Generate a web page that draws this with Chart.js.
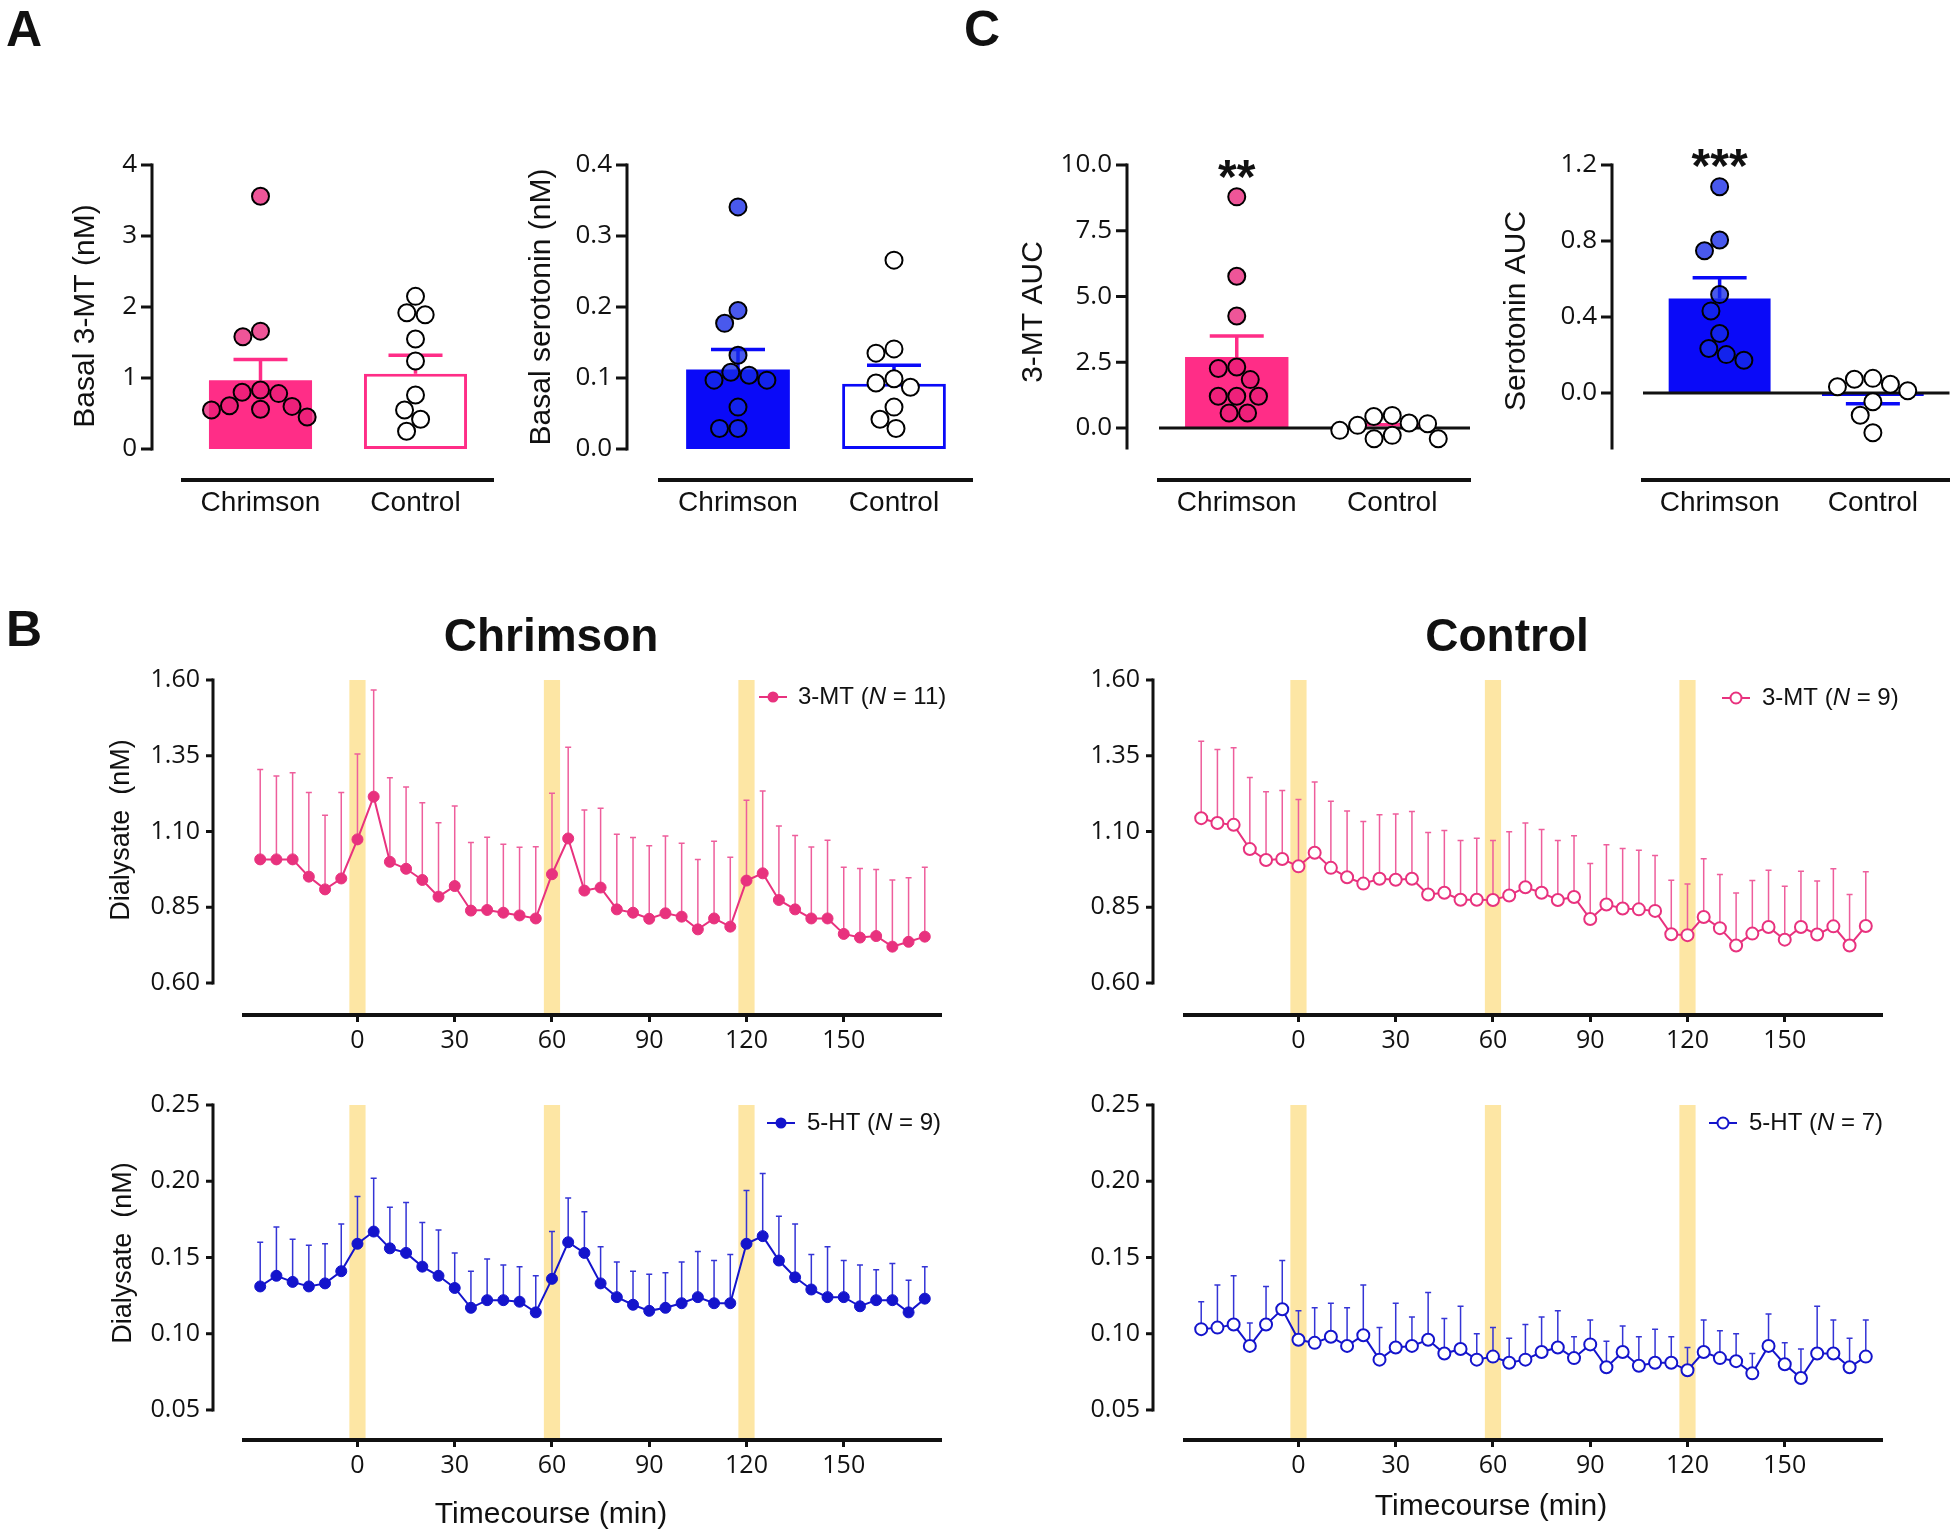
<!DOCTYPE html>
<html><head><meta charset="utf-8">
<script src="https://cdn.jsdelivr.net/npm/chart.js@4.4.1/dist/chart.umd.min.js"></script>
<style>
html,body{margin:0;padding:0;background:#fff;}
#wrap{position:relative;width:1960px;height:1537px;overflow:hidden;background:#fff;}
#wrap canvas{position:absolute;left:0;top:0;}
.lbl{position:absolute;font-family:"Liberation Sans",Arial,sans-serif;font-weight:bold;line-height:1;white-space:nowrap;color:#111;}
</style></head><body>
<div id="wrap">
<canvas id="cA1" width="1960" height="1537"></canvas>
<canvas id="cA2" width="1960" height="1537"></canvas>
<canvas id="cC1" width="1960" height="1537"></canvas>
<canvas id="cC2" width="1960" height="1537"></canvas>
<canvas id="cB1" width="1960" height="1537"></canvas>
<canvas id="cB2" width="1960" height="1537"></canvas>
<canvas id="cB3" width="1960" height="1537"></canvas>
<canvas id="cB4" width="1960" height="1537"></canvas>
<div class="lbl" style="left:6px;top:4px;font-size:50px">A</div>
<div class="lbl" style="left:6px;top:604px;font-size:50px">B</div>
<div class="lbl" style="left:964px;top:4px;font-size:50px">C</div>
<div class="lbl" style="left:551px;top:612px;font-size:46px;transform:translateX(-50%)">Chrimson</div>
<div class="lbl" style="left:1507px;top:612px;font-size:46px;transform:translateX(-50%)">Control</div>
</div>
<script>
// ---------------- DATA ----------------
const groups = ['Chrimson', 'Control'];

// A: basal 3-MT (nM)
const basal3MT_chr = [3.56, 1.66, 1.58, 0.83, 0.80, 0.78, 0.61, 0.60, 0.56, 0.55, 0.45];
const basal3MT_ctl = [2.15, 1.92, 1.89, 1.55, 1.24, 0.76, 0.55, 0.42, 0.25];
const basal3MT_mean = [0.97, 1.06];
const basal3MT_sem = [0.29, 0.26];
const basal3MT_ticks = [0, 1, 2, 3, 4];

// A: basal serotonin (nM)
const basal5HT_chr = [0.341, 0.195, 0.177, 0.132, 0.108, 0.104, 0.097, 0.097, 0.059, 0.029, 0.029];
const basal5HT_ctl = [0.266, 0.141, 0.135, 0.099, 0.093, 0.087, 0.059, 0.042, 0.029];
const basal5HT_mean = [0.112, 0.092];
const basal5HT_sem = [0.028, 0.026];
const basal5HT_ticks = [0, 0.1, 0.2, 0.3, 0.4];

// C: 3-MT AUC
const auc3MT_chr = [8.79, 5.77, 4.26, 2.32, 2.26, 1.84, 1.21, 1.21, 1.21, 0.57, 0.57];
const auc3MT_ctl = [0.48, 0.44, 0.19, 0.165, 0.10, -0.09, -0.28, -0.41, -0.41];
const auc3MT_mean = [2.70, 0.02];
const auc3MT_sem = [0.80, 0.10];
const auc3MT_ticks = [0, 2.5, 5, 7.5, 10];

// C: serotonin AUC
const auc5HT_chr = [1.086, 0.805, 0.749, 0.518, 0.432, 0.313, 0.234, 0.202, 0.172];
const auc5HT_ctl = [0.077, 0.072, 0.046, 0.033, 0.012, -0.046, -0.117, -0.209];
const auc5HT_mean = [0.497, -0.016];
const auc5HT_sem = [0.109, 0.040];
const auc5HT_ticks = [0, 0.4, 0.8, 1.2];

// B: time course
const timeMin = [-30,-25,-20,-15,-10,-5,0,5,10,15,20,25,30,35,40,45,50,55,60,65,70,75,80,85,90,95,100,105,110,115,120,125,130,135,140,145,150,155,160,165,170,175];
const timeTicks = [0, 30, 60, 90, 120, 150];
const stimOnsets = [0, 60, 120];
const stimHalfWidth = 2.5;
const mtTicks = [0.60, 0.85, 1.10, 1.35, 1.60];
const htTicks = [0.05, 0.10, 0.15, 0.20, 0.25];

const chr3MT_mean = [1.008,1.008,1.008,0.951,0.909,0.945,1.074,1.215,1.000,0.977,0.940,0.885,0.920,0.839,0.841,0.832,0.823,0.813,0.959,1.077,0.905,0.915,0.843,0.832,0.812,0.830,0.819,0.777,0.813,0.786,0.938,0.962,0.874,0.843,0.813,0.813,0.762,0.750,0.755,0.720,0.736,0.753];
const chr3MT_upperSEM = [1.305,1.283,1.294,1.229,1.154,1.229,1.356,1.567,1.277,1.247,1.195,1.129,1.184,1.064,1.081,1.058,1.048,1.050,1.226,1.378,1.171,1.177,1.091,1.080,1.053,1.085,1.061,1.008,1.068,1.015,1.203,1.234,1.118,1.087,1.049,1.071,0.982,0.978,0.975,0.940,0.947,0.982];

const ctl3MT_mean = [1.144,1.128,1.122,1.042,1.006,1.009,0.985,1.030,0.980,0.949,0.928,0.944,0.941,0.944,0.892,0.898,0.875,0.875,0.874,0.889,0.916,0.898,0.874,0.884,0.811,0.859,0.846,0.843,0.838,0.761,0.758,0.818,0.781,0.724,0.763,0.785,0.743,0.785,0.760,0.787,0.724,0.788];
const ctl3MT_upperSEM = [1.398,1.371,1.376,1.278,1.231,1.235,1.206,1.263,1.200,1.168,1.133,1.155,1.158,1.166,1.097,1.103,1.070,1.078,1.070,1.099,1.128,1.107,1.070,1.086,0.994,1.056,1.044,1.038,1.021,0.939,0.927,1.010,0.958,0.897,0.938,0.972,0.919,0.969,0.937,0.977,0.892,0.967];

const chr5HT_mean = [0.131,0.138,0.134,0.131,0.133,0.141,0.159,0.167,0.156,0.153,0.144,0.138,0.130,0.117,0.122,0.122,0.121,0.114,0.136,0.160,0.153,0.133,0.124,0.119,0.115,0.117,0.120,0.124,0.120,0.120,0.159,0.164,0.148,0.137,0.129,0.124,0.124,0.118,0.122,0.122,0.114,0.123];
const chr5HT_upperSEM = [0.160,0.170,0.162,0.158,0.159,0.172,0.190,0.202,0.183,0.186,0.173,0.168,0.153,0.141,0.149,0.145,0.144,0.138,0.167,0.189,0.180,0.157,0.147,0.141,0.139,0.140,0.147,0.154,0.148,0.152,0.194,0.205,0.177,0.172,0.152,0.157,0.148,0.145,0.142,0.146,0.135,0.144];

const ctl5HT_mean = [0.103,0.104,0.106,0.092,0.106,0.116,0.096,0.094,0.098,0.092,0.099,0.083,0.091,0.092,0.096,0.087,0.090,0.083,0.085,0.081,0.083,0.088,0.091,0.084,0.093,0.078,0.088,0.079,0.081,0.081,0.076,0.088,0.084,0.082,0.074,0.092,0.080,0.071,0.087,0.087,0.078,0.085];
const ctl5HT_upperSEM = [0.121,0.132,0.138,0.107,0.131,0.148,0.115,0.117,0.120,0.117,0.132,0.104,0.120,0.111,0.127,0.110,0.118,0.100,0.104,0.097,0.106,0.111,0.115,0.098,0.109,0.095,0.105,0.098,0.103,0.098,0.091,0.109,0.102,0.100,0.087,0.113,0.094,0.090,0.118,0.109,0.097,0.109];

// ---------------- STYLE ----------------
const W = 1960, H = 1537;
const FONT_TXT = '"Liberation Sans", Arial, sans-serif';
const FONT_NUM = '"Open Sans", "DejaVu Sans", sans-serif';
const INK = '#111111';
const PINK_BAR = '#FF2D87', PINK_PT = 'rgba(232,28,118,0.75)';
const BLUE_BAR = '#0A0AF8', BLUE_PT = 'rgba(22,42,232,0.78)';
const PINK_LINE = '#E8327E', PINK_ERR = '#EE5E9C';
const BLUE_LINE = '#1414CC', BLUE_ERR = '#3434D6';
const BAND = '#FDE6A4';
Chart.defaults.color = INK;
Chart.defaults.font.family = FONT_NUM;

function drawText(ctx, t) {
  ctx.save();
  ctx.font = t.font; ctx.fillStyle = INK;
  ctx.textAlign = 'center'; ctx.textBaseline = t.baseline || 'middle';
  ctx.translate(t.x, t.y);
  if (t.rot) ctx.rotate(-Math.PI / 2);
  ctx.fillText(t.text, 0, 0);
  ctx.restore();
}
function drawYAxis(chart, ax) {
  const ctx = chart.ctx, y = chart.scales.y;
  const X = chart.chartArea.left - ax.offset;
  const y0 = y.getPixelForValue(ax.from), y1 = y.getPixelForValue(ax.to);
  ctx.save();
  ctx.strokeStyle = INK; ctx.lineWidth = ax.width;
  ctx.beginPath(); ctx.moveTo(X, y0 - ax.tickWidth / 2); ctx.lineTo(X, y1 + ax.tickWidth / 2); ctx.stroke();
  ctx.lineWidth = ax.tickWidth;
  ax.ticks.forEach(v => {
    const py = y.getPixelForValue(v);
    ctx.beginPath(); ctx.moveTo(X - ax.tickLen, py); ctx.lineTo(X, py); ctx.stroke();
  });
  ctx.restore();
}
function drawLegend(ctx, L) {
  ctx.save();
  ctx.strokeStyle = L.color; ctx.lineWidth = 2;
  ctx.beginPath(); ctx.moveTo(L.x - 14, L.y); ctx.lineTo(L.x + 14, L.y); ctx.stroke();
  ctx.beginPath(); ctx.arc(L.x, L.y, 5.5, 0, Math.PI * 2);
  ctx.fillStyle = L.hollow ? '#fff' : L.color; ctx.fill();
  if (L.hollow) { ctx.lineWidth = 2; ctx.stroke(); }
  let x = L.textX;
  ctx.fillStyle = INK; ctx.textAlign = 'left'; ctx.textBaseline = 'middle';
  L.parts.forEach(([s, it]) => {
    ctx.font = (it ? 'italic ' : '') + '24px ' + FONT_TXT;
    ctx.fillText(s, x, L.y);
    x += ctx.measureText(s).width;
  });
  ctx.restore();
}

// beeswarm layout of scatter points, computed from the y scale
function swarm(values, yScale, D) {
  const order = values.map((v, i) => i).sort((a, b) => values[b] - values[a]);
  const placed = [], xs = new Array(values.length).fill(0);
  for (const i of order) {
    const py = yScale.getPixelForValue(values[i]);
    const forb = [];
    for (const p of placed) {
      const dy = Math.abs(p.y - py);
      if (dy < D) { const w = Math.sqrt(D * D - dy * dy); forb.push([p.x - w, p.x + w]); }
    }
    const cands = [0];
    forb.forEach(f => cands.push(f[0], f[1]));
    cands.sort((a, b) => Math.abs(a) - Math.abs(b) || a - b);
    let x = 0;
    for (const c of cands) {
      if (forb.every(f => c <= f[0] + 1e-6 || c >= f[1] - 1e-6)) { x = c; break; }
    }
    placed.push({ x, y: py }); xs[i] = x;
  }
  return xs;
}

function barPanel(id, p) {
  const yW = 100, xH = 60;
  const decor = {
    id: 'decor_' + id,
    afterDatasetDraw(chart, args) {
      if (args.index !== 0) return;
      const ctx = chart.ctx, y = chart.scales.y, a = chart.chartArea;
      ctx.save();
      ctx.strokeStyle = p.color; ctx.lineWidth = 3.5;
      args.meta.data.forEach((el, i) => {
        const m = p.mean[i], s = p.sem[i];
        const dir = m >= 0 ? 1 : -1;
        const y0 = y.getPixelForValue(m), y1 = y.getPixelForValue(m + dir * s);
        ctx.beginPath(); ctx.moveTo(el.x, y0); ctx.lineTo(el.x, y1);
        ctx.moveTo(el.x - 27, y1); ctx.lineTo(el.x + 27, y1); ctx.stroke();
      });
      if (p.zero) {
        const y0 = y.getPixelForValue(0);
        ctx.strokeStyle = INK; ctx.lineWidth = 3;
        ctx.beginPath(); ctx.moveTo(a.left, y0); ctx.lineTo(a.right, y0); ctx.stroke();
      }
      ctx.restore();
    },
    afterDraw(chart) {
      drawYAxis(chart, { offset: p.axisOff, from: p.yTicks[p.yTicks.length - 1], to: p.axisBottom, ticks: p.yTicks, tickLen: 11, width: 3, tickWidth: 3 });
      drawText(chart.ctx, { text: p.yTitle, x: p.yTitleX, y: p.yTitleY, rot: true, font: '30px ' + FONT_TXT });
      if (p.stars) {
        const x = chart.scales.x.getPixelForValue(0);
        drawText(chart.ctx, { text: p.stars, x: x, y: p.starsBase, baseline: 'alphabetic', font: 'bold 48px ' + FONT_TXT });
      }
    }
  };
  const cfg = {
    type: 'bar',
    data: {
      datasets: [
        { type: 'bar', data: p.mean.map((m, g) => ({ x: g, y: m })), backgroundColor: [p.color, '#ffffff'], borderColor: [p.color, p.color],
          borderWidth: [0, 3], borderSkipped: false, grouped: false, categoryPercentage: 1, barPercentage: 0.665, order: 3 },
        { type: 'scatter', data: p.chr.map(v => ({ x: 0, y: v })), backgroundColor: p.ptColor, borderColor: '#000',
          borderWidth: 2, pointRadius: 8.5, order: 1 },
        { type: 'scatter', data: p.ctl.map(v => ({ x: 1, y: v })), backgroundColor: '#ffffff', borderColor: '#000',
          borderWidth: 2, pointRadius: 8.5, order: 0 }
      ]
    },
    options: {
      responsive: false, animation: false, devicePixelRatio: 1,
      layout: { padding: { left: p.area.left - yW, right: W - p.area.right, top: p.area.top, bottom: H - p.area.bottom - xH } },
      plugins: { legend: { display: false }, tooltip: { enabled: false } },
      scales: {
        x: { type: 'linear', offset: false, min: -0.5, max: 1.5, grid: { display: false, drawTicks: false },
             border: { display: true, width: 4, color: INK },
             ticks: { font: { family: FONT_TXT, size: 28 }, padding: 6, color: INK, callback: v => groups[v] },
             afterBuildTicks: s => { s.ticks = groups.map((g, i) => ({ value: i })); },
             afterFit: s => { s.height = xH; } },
        y: { type: 'linear', min: p.yMin, max: p.yMax, grid: { display: false, drawTicks: false }, border: { display: false },
             ticks: { font: { family: FONT_NUM, size: 26 }, padding: p.axisOff + 15, color: INK, callback: v => v.toFixed(p.dec) },
             afterBuildTicks: s => { s.ticks = p.yTicks.map(v => ({ value: v })); },
             afterFit: s => { s.width = yW; } }
      }
    },
    plugins: [decor]
  };
  const ch = new Chart(document.getElementById(id), cfg);
  const sx = ch.scales.x;
  const pxPerUnit = sx.getPixelForValue(1) - sx.getPixelForValue(0);
  [p.chr, p.ctl].forEach((vals, g) => {
    const xs = swarm(vals, ch.scales.y, 18.5);
    ch.data.datasets[g + 1].data = vals.map((v, i) => ({ x: g + xs[i] / pxPerUnit, y: v }));
  });
  ch.update('none');
}

function linePanel(id, p) {
  const yW = 150, xH = 60;
  const decor = {
    id: 'decor_' + id,
    beforeDatasetsDraw(chart) {
      const ctx = chart.ctx, a = chart.chartArea, sx = chart.scales.x, sy = chart.scales.y;
      ctx.save();
      ctx.fillStyle = BAND;
      stimOnsets.forEach(t => {
        const x0 = sx.getPixelForValue(t - stimHalfWidth), x1 = sx.getPixelForValue(t + stimHalfWidth);
        ctx.fillRect(x0, a.top, x1 - x0, a.bottom - a.top - 2);
      });
      ctx.strokeStyle = p.errColor; ctx.lineWidth = 1.5;
      chart.getDatasetMeta(0).data.forEach((pt, i) => {
        const yt = sy.getPixelForValue(p.upper[i]);
        ctx.beginPath(); ctx.moveTo(pt.x, pt.y); ctx.lineTo(pt.x, yt);
        ctx.moveTo(pt.x - 3, yt); ctx.lineTo(pt.x + 3, yt); ctx.stroke();
      });
      ctx.restore();
    },
    afterDraw(chart) {
      drawYAxis(chart, { offset: p.axisOff, from: p.yTicks[p.yTicks.length - 1], to: p.yTicks[0], ticks: p.yTicks, tickLen: 7, width: 3, tickWidth: 3 });
      if (p.yTitle) drawText(chart.ctx, { text: p.yTitle, x: p.yTitleX, y: p.yTitleY, rot: true, font: '27px ' + FONT_TXT });
      if (p.xTitle) drawText(chart.ctx, { text: p.xTitle, x: p.xTitleX, y: p.xTitleY, font: '30px ' + FONT_TXT });
      drawLegend(chart.ctx, p.legend);
    }
  };
  const cfg = {
    type: 'line',
    data: {
      datasets: [{
        data: timeMin.map((t, i) => ({ x: t, y: p.mean[i] })),
        borderColor: p.color, borderWidth: 2, tension: 0,
        pointRadius: p.hollow ? 6 : 5.5,
        pointBackgroundColor: p.hollow ? '#ffffff' : p.color,
        pointBorderColor: p.color, pointBorderWidth: p.hollow ? 2 : 1
      }]
    },
    options: {
      responsive: false, animation: false, devicePixelRatio: 1,
      layout: { padding: { left: p.area.left - yW, right: W - p.area.right, top: p.area.top, bottom: H - p.area.bottom - xH } },
      plugins: { legend: { display: false }, tooltip: { enabled: false } },
      scales: {
        x: { type: 'linear', min: -35, max: 180,
             grid: { display: true, drawOnChartArea: false, drawTicks: true, tickLength: 7, tickWidth: 3, tickColor: INK },
             border: { display: true, width: 4, color: INK },
             ticks: { font: { family: FONT_NUM, size: 25 }, padding: 4, color: INK, callback: v => String(v) },
             afterBuildTicks: s => { s.ticks = timeTicks.map(v => ({ value: v })); },
             afterFit: s => { s.height = xH; } },
        y: { type: 'linear', min: p.yMin, max: p.yMax, grid: { display: false, drawTicks: false }, border: { display: false },
             ticks: { font: { family: FONT_NUM, size: 25 }, padding: p.axisOff + 13, color: INK, callback: v => v.toFixed(2) },
             afterBuildTicks: s => { s.ticks = p.yTicks.map(v => ({ value: v })); },
             afterFit: s => { s.width = yW; } }
      }
    },
    plugins: [decor]
  };
  new Chart(document.getElementById(id), cfg);
}

// ---------------- PANELS ----------------
barPanel('cA1', { area: { left: 183, right: 493, top: 165, bottom: 480 }, yMin: -0.4366, yMax: 4, yTicks: basal3MT_ticks, dec: 0,
  axisOff: 31, axisBottom: 0, color: PINK_BAR, ptColor: PINK_PT, mean: basal3MT_mean, sem: basal3MT_sem,
  chr: basal3MT_chr, ctl: basal3MT_ctl, yTitle: 'Basal 3-MT (nM)', yTitleX: 86, yTitleY: 316 });
barPanel('cA2', { area: { left: 660, right: 972, top: 165, bottom: 480 }, yMin: -0.04366, yMax: 0.4, yTicks: basal5HT_ticks, dec: 1,
  axisOff: 33, axisBottom: 0, color: BLUE_BAR, ptColor: BLUE_PT, mean: basal5HT_mean, sem: basal5HT_sem,
  chr: basal5HT_chr, ctl: basal5HT_ctl, yTitle: 'Basal serotonin (nM)', yTitleX: 542, yTitleY: 307 });
barPanel('cC1', { area: { left: 1159, right: 1470, top: 165, bottom: 480 }, yMin: -1.977, yMax: 10, yTicks: auc3MT_ticks, dec: 1,
  axisOff: 32, axisBottom: -0.76, color: PINK_BAR, ptColor: PINK_PT, mean: auc3MT_mean, sem: auc3MT_sem, zero: true,
  chr: auc3MT_chr, ctl: auc3MT_ctl, yTitle: '3-MT AUC', yTitleX: 1034, yTitleY: 312, stars: '**', starsBase: 193 });
barPanel('cC2', { area: { left: 1643, right: 1955, top: 165, bottom: 480 }, yMin: -0.4579, yMax: 1.2, yTicks: auc5HT_ticks, dec: 1,
  axisOff: 31, axisBottom: -0.29, color: BLUE_BAR, ptColor: BLUE_PT, mean: auc5HT_mean, sem: auc5HT_sem, zero: true,
  chr: auc5HT_chr, ctl: auc5HT_ctl, yTitle: 'Serotonin AUC', yTitleX: 1517, yTitleY: 311, stars: '***', starsBase: 182 });

linePanel('cB1', { area: { left: 244, right: 941, top: 680, bottom: 1015 }, yMin: 0.4944, yMax: 1.60, yTicks: mtTicks, axisOff: 31,
  mean: chr3MT_mean, upper: chr3MT_upperSEM, color: PINK_LINE, errColor: PINK_ERR, hollow: false,
  yTitle: 'Dialysate  (nM)', yTitleX: 122, yTitleY: 830,
  legend: { x: 773, y: 697, textX: 798, color: PINK_LINE, hollow: false, parts: [['3-MT (', false], ['N', true], [' = 11)', false]] } });
linePanel('cB2', { area: { left: 1185, right: 1882, top: 680, bottom: 1015 }, yMin: 0.4944, yMax: 1.60, yTicks: mtTicks, axisOff: 32,
  mean: ctl3MT_mean, upper: ctl3MT_upperSEM, color: PINK_LINE, errColor: PINK_ERR, hollow: true,
  legend: { x: 1736, y: 698, textX: 1762, color: PINK_LINE, hollow: true, parts: [['3-MT (', false], ['N', true], [' = 9)', false]] } });
linePanel('cB3', { area: { left: 244, right: 941, top: 1105, bottom: 1440 }, yMin: 0.0303, yMax: 0.25, yTicks: htTicks, axisOff: 31,
  mean: chr5HT_mean, upper: chr5HT_upperSEM, color: BLUE_LINE, errColor: BLUE_ERR, hollow: false,
  yTitle: 'Dialysate  (nM)', yTitleX: 124, yTitleY: 1253, xTitle: 'Timecourse (min)', xTitleX: 551, xTitleY: 1515,
  legend: { x: 781, y: 1123, textX: 807, color: BLUE_LINE, hollow: false, parts: [['5-HT (', false], ['N', true], [' = 9)', false]] } });
linePanel('cB4', { area: { left: 1185, right: 1882, top: 1105, bottom: 1440 }, yMin: 0.0303, yMax: 0.25, yTicks: htTicks, axisOff: 32,
  mean: ctl5HT_mean, upper: ctl5HT_upperSEM, color: BLUE_LINE, errColor: BLUE_ERR, hollow: true,
  xTitle: 'Timecourse (min)', xTitleX: 1491, xTitleY: 1507,
  legend: { x: 1723, y: 1123, textX: 1749, color: BLUE_LINE, hollow: true, parts: [['5-HT (', false], ['N', true], [' = 7)', false]] } });
</script>
</body></html>
